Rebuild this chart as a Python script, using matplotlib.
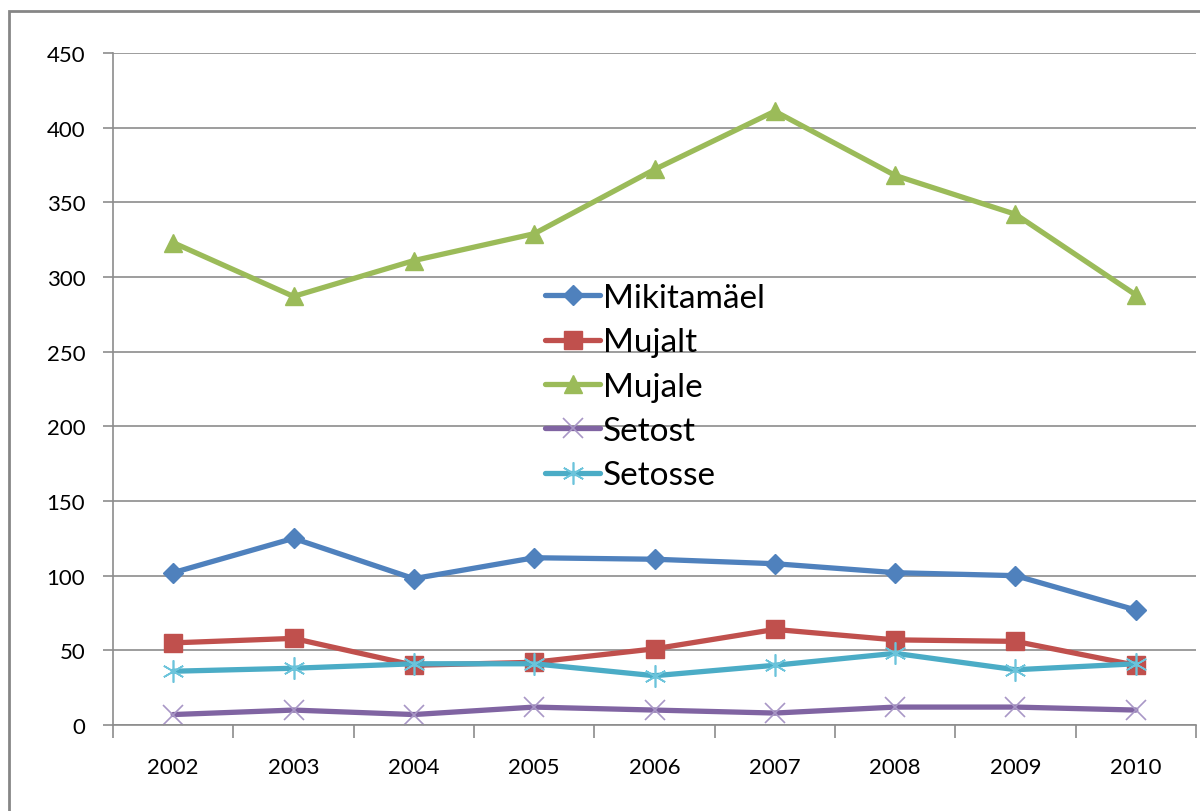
import matplotlib.pyplot as plt
from matplotlib.patches import Rectangle

years = ["2002", "2003", "2004", "2005", "2006", "2007", "2008", "2009", "2010"]
mikitamael = [102, 125, 98, 112, 111, 108, 102, 100, 77]
mujalt = [55, 58, 40, 42, 51, 64, 57, 56, 40]
mujale = [323, 287, 311, 329, 372, 411, 368, 342, 288]
setost = [7, 10, 7, 12, 10, 8, 12, 12, 10]
setosse = [36, 38, 41, 41, 33, 40, 48, 37, 41]

plt.rcParams['font.family'] = ['Lato', 'DejaVu Sans']

fig = plt.figure(figsize=(12, 8.12), dpi=100)
ax = fig.add_axes([113 / 1200, 1 - 726 / 812, 1083 / 1200, 672 / 812])

# outer chart frame
fig.patches.append(Rectangle((9 / 1200, -0.2), 1.2, 1.2 - 12 / 812 + 0.0,
                             transform=fig.transFigure, fill=False,
                             edgecolor='#868686', linewidth=2))

x = list(range(len(years)))
series = [
    ("Mikitamäel", mikitamael, '#4F81BD', dict(marker='D', markersize=10)),
    ("Mujalt", mujalt, '#C0504D', dict(marker='s', markersize=13)),
    ("Mujale", mujale, '#9BBB59', dict(marker='^', markersize=13)),
    ("Setost", setost, '#8064A2', dict(marker='x', markersize=14, markeredgewidth=1.2,
                                        markeredgecolor='#A897C6')),
    ("Setosse", setosse, '#4BACC6', dict(marker=(6, 2, 0), markersize=16, markeredgewidth=1.2,
                                          markeredgecolor='#6CC4DB')),
]
for name, vals, color, mk in series:
    ax.plot(x, vals, color=color, linewidth=3.8, label=name, clip_on=False,
            solid_capstyle='round', **mk)

ax.set_xlim(-0.5, len(years) - 0.5)
ax.set_ylim(0, 450)
ax.set_yticks(range(0, 451, 50))
ax.yaxis.grid(True, color='#8C8C8C', linewidth=1.2)
ax.set_axisbelow(True)

ax.set_xticks([i - 0.5 for i in range(len(years) + 1)])
ax.set_xticklabels([])
ax.set_xticks(x, minor=True)
ax.set_xticklabels(years, minor=True)
ax.tick_params(axis='x', which='major', direction='out', length=9, color='#8C8C8C', width=1.2)
ax.tick_params(axis='x', which='minor', length=0, pad=23, labelsize=16)
ax.tick_params(axis='y', direction='out', length=7, color='#8C8C8C', width=1.2,
               labelsize=16, pad=13)

for side in ['top', 'right']:
    ax.spines[side].set_visible(False)
for side in ['left', 'bottom']:
    ax.spines[side].set_color('#8C8C8C')
    ax.spines[side].set_linewidth(1.2)

leg = ax.legend(loc='upper left', bbox_to_anchor=(545 / 1200, 1 - 284 / 812),
                bbox_transform=fig.transFigure, frameon=False, fontsize=24,
                handlelength=1.65, handletextpad=0.1, labelspacing=0.43,
                borderpad=0, borderaxespad=0)

fig.savefig('out.png', dpi=100)
